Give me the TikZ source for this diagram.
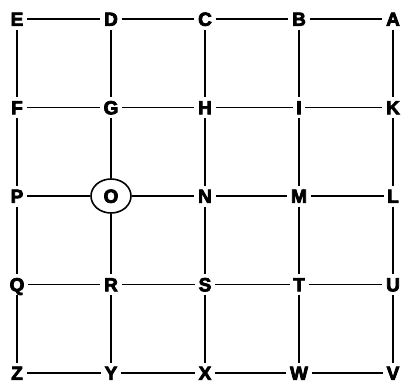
\documentclass[tikz,border=0pt]{standalone}
\usepackage{fontspec}
\setmainfont{Liberation Sans}
\newfontfamily\heavyfont{Liberation Sans}[UprightFont={* Bold}, UprightFeatures={FakeBold=4}]
\usetikzlibrary{positioning,shapes.geometric}

\begin{document}
\begin{tikzpicture}[node distance=88.5pt and 94pt, on grid,
    letter/.style={font=\heavyfont\fontsize{19}{19}\selectfont, inner sep=3.5pt, text height=13.6pt, text depth=0pt},
    ring/.style={letter, draw, ellipse, line width=1.6pt, minimum width=40pt, minimum height=34pt},
    edge/.style={line width=1.3pt}]
\useasboundingbox (0,0) rectangle (404pt,-383pt);
% top row
\node[letter] (E) at (17pt,-19pt) {E};
\node[letter, right=of E] (D) {D};
\node[letter, right=of D] (C) {C};
\node[letter, right=of C] (B) {B};
\node[letter, right=of B] (A) {A};
% second row
\node[letter, below=of E] (F) {F};
\node[letter, right=of F] (G) {G};
\node[letter, right=of G] (H) {H};
\node[letter, right=of H] (I) {I};
\node[letter, right=of I] (K) {K};
% third row
\node[letter, below=of F] (P) {P};
\node[ring, right=of P] (O) {O};
\node[letter, right=of O] (N) {N};
\node[letter, right=of N] (M) {M};
\node[letter, right=of M] (L) {L};
% fourth row
\node[letter, below=of P] (Q) {Q};
\node[letter, right=of Q] (R) {R};
\node[letter, right=of R] (S) {S};
\node[letter, right=of S] (T) {T};
\node[letter, right=of T] (U) {U};
% bottom row
\node[letter, below=of Q] (Z) {Z};
\node[letter, right=of Z] (Y) {Y};
\node[letter, right=of Y] (X) {X};
\node[letter, right=of X] (W) {W};
\node[letter, right=of W] (V) {V};

% horizontal links
\foreach \a/\b in {E/D, D/C, C/B, B/A, F/G, G/H, H/I, I/K, P/O, O/N, N/M, M/L,
                   Q/R, R/S, S/T, T/U, Z/Y, Y/X, X/W, W/V}
    \draw[edge] (\a) -- (\b);
% vertical links
\foreach \a/\b in {E/F, F/P, P/Q, Q/Z, D/G, G/O, O/R, R/Y, C/H, H/N, N/S, S/X,
                   B/I, I/M, M/T, T/W, A/K, K/L, L/U, U/V}
    \draw[edge] (\a) -- (\b);
\end{tikzpicture}
\end{document}
